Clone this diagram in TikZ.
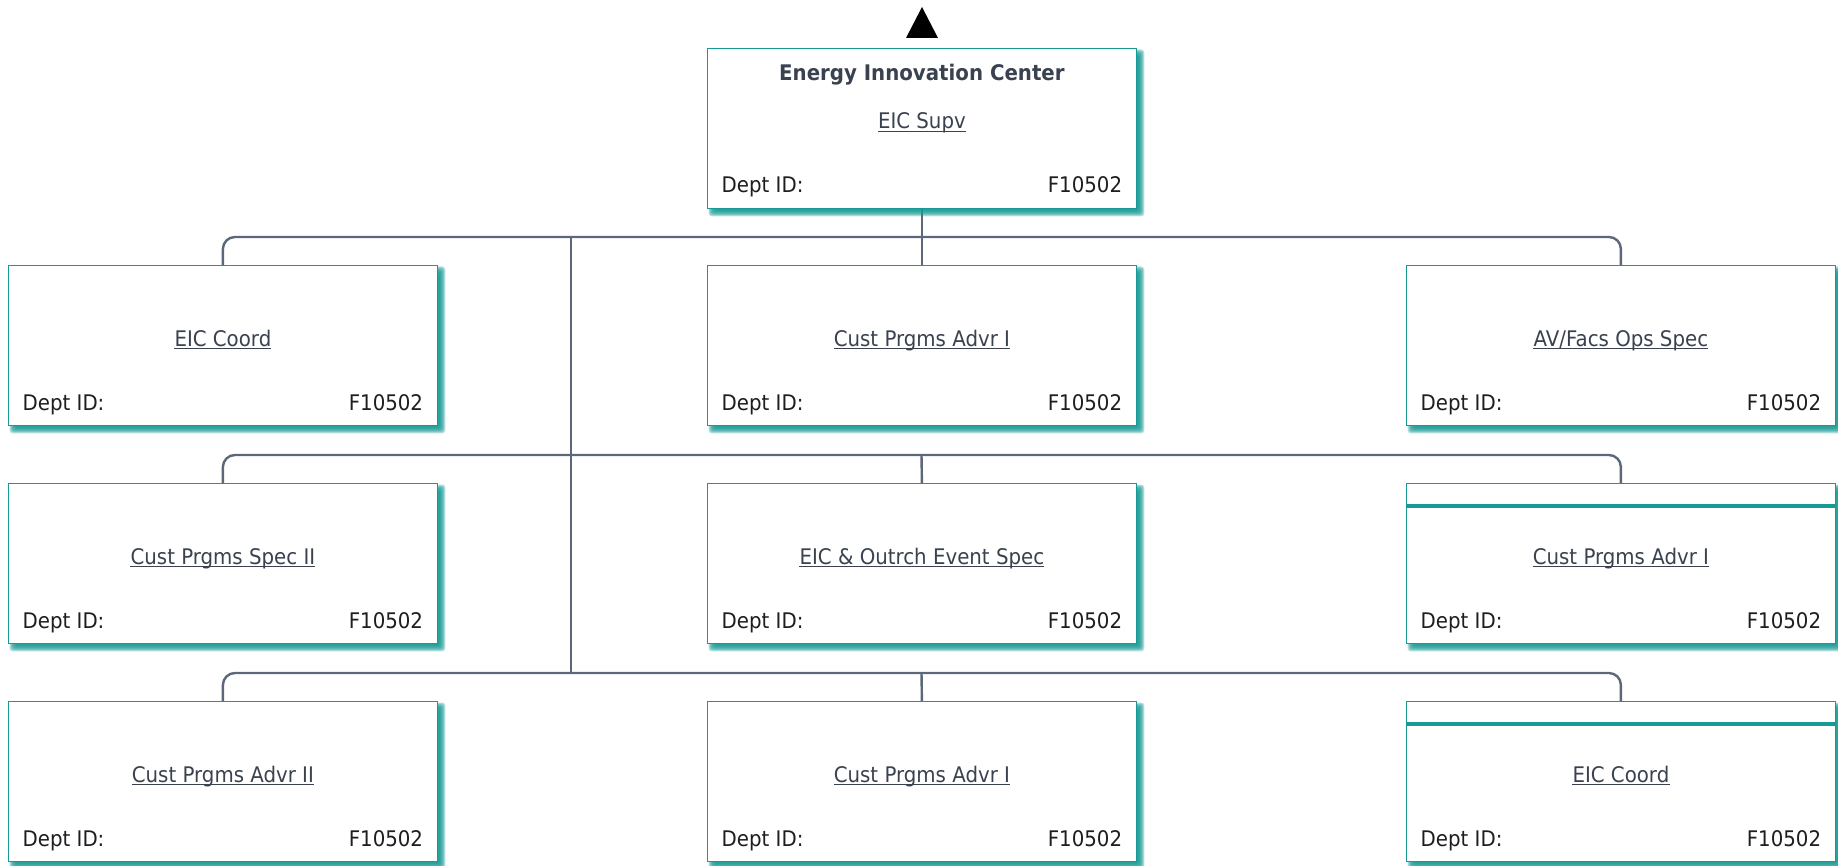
\documentclass[tikz,border=0pt]{standalone}
\usepackage{fontspec}
\setmainfont{DejaVu Sans}[FakeStretch=0.92]

\definecolor{eicteal}{RGB}{23,154,150}
\definecolor{eicline}{RGB}{92,104,122}
\definecolor{eictitle}{RGB}{58,66,80}
\definecolor{eicdept}{RGB}{30,30,30}

\pgfdeclarelayer{paper}
\pgfdeclarelayer{background}
\pgfdeclarelayer{shade}
\pgfsetlayers{paper,background,shade,main}

\tikzset{
  posn/.style={anchor=north west, minimum width=429pt, minimum height=160pt,
    inner sep=0pt, fill=white, draw=eicteal, line width=0.8pt},
  pshade/.style={fill=eicteal, fill opacity=0.3, rounded corners=3pt},
  ptitle/.style={anchor=base, inner sep=0pt, text=eictitle,
    font=\fontsize{21.5}{26}\selectfont},
  phead/.style={anchor=base, inner sep=0pt, text=eictitle,
    font=\fontsize{21.5}{26}\selectfont\bfseries},
  pdept/.style={inner sep=0pt, text=eicdept,
    font=\fontsize{21.5}{26}\selectfont},
  uline/.style={draw=eictitle, line width=1.2pt},
  conn/.style={draw=eicline, line width=2.4pt},
  band/.style={draw=eicteal, line width=4pt},
}

% one position box: name, left x, top y, job title
\newcommand{\posbox}[4]{%
  \node[posn] (#1) at (#2,#3) {};
  \begin{pgfonlayer}{shade}
  \foreach \d in {0,...,6}
    \fill[pshade] ([shift={({1.5pt+\d pt},{-1.5pt-\d pt})}]#1.north west)
      rectangle ([shift={({7.5pt-\d pt},{\d pt-7.5pt})}]#1.south east);
  \end{pgfonlayer}
  \node[ptitle] (#1-t) at ([yshift=-81pt]#1.north) {#4};
  \draw[uline] ([yshift=-2.5pt]#1-t.base west) -- ([yshift=-2.5pt]#1-t.base east);
  \node[pdept, anchor=base west] (#1-d) at ([xshift=14.5pt,yshift=-145pt]#1.north west) {Dept ID:};
  \node[pdept, anchor=base east] (#1-v) at ([xshift=-14.5pt,yshift=-145pt]#1.north east) {F10502};
}

\begin{document}
\begin{tikzpicture}[x=1pt, y=-1pt]
\begin{pgfonlayer}{paper}
\fill[white] (0,0) rectangle (1838,866);
\end{pgfonlayer}
\useasboundingbox (0,0) rectangle (1838,866);

% navigation marker above the root
\fill[black] (906,38) -- (922,7) -- (938,38) -- cycle;

% root box
\posbox{top}{707}{48}{EIC Supv}
\node[phead] (top-h) at ([yshift=-33pt]top.north) {Energy Innovation Center};

% first row
\posbox{r1a}{8}{265}{EIC Coord}
\posbox{r1b}{707}{265}{Cust Prgms Advr I}
\posbox{r1c}{1406}{265}{AV/Facs Ops Spec}

% second row
\posbox{r2a}{8}{483}{Cust Prgms Spec II}
\posbox{r2b}{707}{483}{EIC \& Outrch Event Spec}
\posbox{r2c}{1406}{483}{Cust Prgms Advr I}
\draw[band] ([yshift=-23pt]r2c.north west) -- ([yshift=-23pt]r2c.north east);

% third row
\posbox{r3a}{8}{701}{Cust Prgms Advr II}
\posbox{r3b}{707}{701}{Cust Prgms Advr I}
\posbox{r3c}{1406}{701}{EIC Coord}
\draw[band] ([yshift=-23pt]r3c.north west) -- ([yshift=-23pt]r3c.north east);

% bus lines and the trunk
\coordinate (bus1) at (921.5,237);
\coordinate (bus2) at (921.5,455);
\coordinate (bus3) at (921.5,673);
\coordinate (trunk1) at (571,237);
\coordinate (trunk3) at (571,673);

% reporting lines, kept beneath the boxes
\begin{pgfonlayer}{background}
\draw[conn, rounded corners=12pt] (r1a.north) |- (bus1) -| (r1c.north);
\draw[conn, rounded corners=12pt] (r2a.north) |- (bus2) -| (r2c.north);
\draw[conn, rounded corners=12pt] (r3a.north) |- (bus3) -| (r3c.north);
\draw[conn] (top.south) -- (r1b.north);
\draw[conn] (bus2) -- (r2b.north);
\draw[conn] (bus3) -- (r3b.north);
\draw[conn] (trunk1) -- (trunk3);
\end{pgfonlayer}
\end{tikzpicture}
\end{document}
